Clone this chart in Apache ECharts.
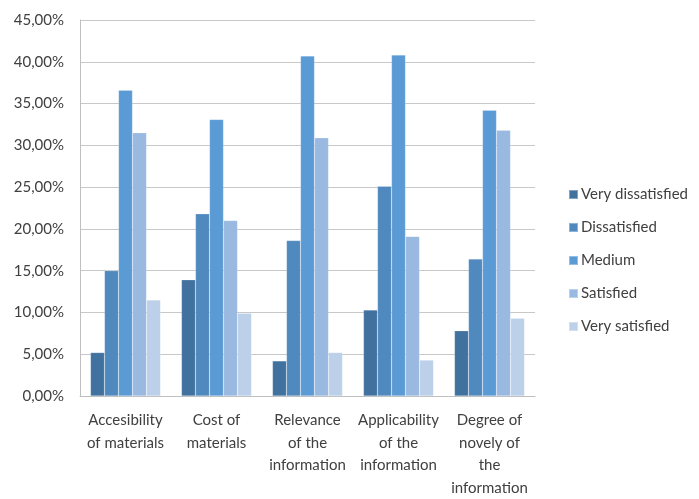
<!DOCTYPE html>
<html>
<head>
<meta charset="utf-8">
<script src="https://cdn.jsdelivr.net/npm/echarts@6/dist/echarts.min.js"></script>
<style>
  html, body { margin: 0; padding: 0; background: #ffffff; }
  #chart { width: 699px; height: 499px; }
</style>
</head>
<body>
<div id="chart"></div>
<script>
// Survey results: share of responses per satisfaction level (%)
const categories = [
  'Accesibility\nof materials',
  'Cost of\nmaterials',
  'Relevance\nof the\ninformation',
  'Applicability\nof the\ninformation',
  'Degree of\nnovely of\nthe\ninformation'
];
const seriesNames = ['Very dissatisfied', 'Dissatisfied', 'Medium', 'Satisfied', 'Very satisfied'];
const veryDissatisfied = [5.2, 13.9, 4.2, 10.3, 7.8];
const dissatisfied     = [15.0, 21.8, 18.6, 25.1, 16.4];
const medium           = [36.6, 33.1, 40.7, 40.8, 34.2];
const satisfied        = [31.5, 21.0, 30.9, 19.1, 31.8];
const verySatisfied    = [11.5, 9.9, 5.2, 4.3, 9.3];
const yTicks = [0, 5, 10, 15, 20, 25, 30, 35, 40, 45];

const palette = ['#41729f', '#4f89be', '#5b9bd5', '#99b9e0', '#bcd0ea'];
const seriesValues = [veryDissatisfied, dissatisfied, medium, satisfied, verySatisfied];
const fontFamily = 'Lato, "Open Sans", sans-serif';
const textColor = '#404040';

const chart = echarts.init(document.getElementById('chart'), null, { renderer: 'canvas' });
chart.setOption({
  animation: false,
  color: palette,
  textStyle: { fontFamily: fontFamily, color: textColor },
  grid: { left: 80, right: 164, top: 20, bottom: 99, containLabel: false },
  legend: {
    orient: 'vertical',
    left: 563,
    top: 182,
    itemWidth: 9,
    itemHeight: 9,
    itemGap: 18,
    icon: 'rect',
    textStyle: { fontFamily: fontFamily, fontSize: 15, color: textColor, padding: [0, 0, 0, -2] },
    data: seriesNames
  },
  xAxis: {
    type: 'category',
    data: categories,
    axisLine: { lineStyle: { color: '#bfbfbf', width: 1 } },
    axisTick: { show: false },
    axisLabel: {
      interval: 0,
      margin: 13,
      fontSize: 15,
      lineHeight: 22.5,
      color: textColor,
      fontFamily: fontFamily,
      align: 'center'
    }
  },
  yAxis: {
    type: 'value',
    min: yTicks[0],
    max: yTicks[yTicks.length - 1],
    interval: 5,
    axisLine: { show: true, lineStyle: { color: '#bfbfbf', width: 1 } },
    axisTick: { show: false },
    splitLine: { lineStyle: { color: '#c8c8c8', width: 1 } },
    axisLabel: {
      margin: 16,
      fontSize: 15,
      color: textColor,
      fontFamily: fontFamily,
      formatter: v => v.toFixed(2).replace('.', ',') + '%'
    }
  },
  series: seriesNames.map((name, i) => ({
    name: name,
    type: 'bar',
    data: seriesValues[i],
    barGap: '0%',
    barCategoryGap: '23%',
    itemStyle: { color: palette[i], borderColor: 'rgba(255,255,255,0.35)', borderWidth: 0.5 }
  }))
});
</script>
</body>
</html>
